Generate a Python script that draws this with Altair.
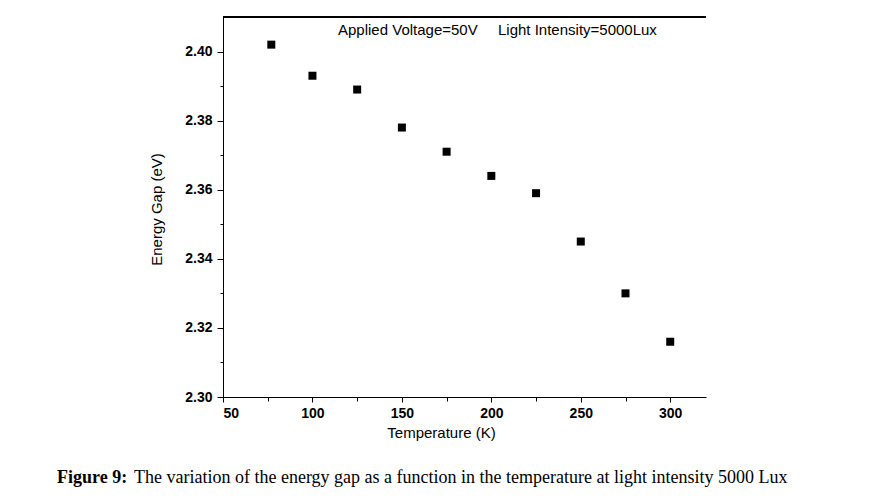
import altair as alt
import pandas as pd

temperature = [77, 100, 125, 150, 175, 200, 225, 250, 275, 300]
energy_gap = [2.402, 2.393, 2.389, 2.378, 2.371, 2.364, 2.359, 2.345, 2.330, 2.316]

x_ticks = [50, 75, 100, 125, 150, 175, 200, 225, 250, 275, 300]
y_ticks = [2.30, 2.31, 2.32, 2.33, 2.34, 2.35, 2.36, 2.37, 2.38, 2.39, 2.40]

annotation_left = "Applied Voltage=50V"
annotation_right = "Light Intensity=5000Lux"
caption_bold = "Figure 9:"
caption_text = "The variation of the energy gap as a function in the temperature at light intensity 5000 Lux"

df = pd.DataFrame({"T": temperature, "Eg": energy_gap})

SANS = "Liberation Sans"
SERIF = "Liberation Serif"

W, H = 483, 380

x_scale = alt.Scale(domain=[50, 320], nice=False, zero=False)
y_scale = alt.Scale(domain=[2.30, 2.41], nice=False, zero=False)

x_axis = alt.Axis(
    values=x_ticks,
    labelExpr="datum.value % 50 == 0 ? datum.label : ''",
    tickSize={"condition": {"test": "datum.value % 50 == 0", "value": 5}, "value": 4},
    grid=False,
    domainColor="black", tickColor="black", domainWidth=1, tickWidth=1,
    labelFont=SANS, labelFontSize=14, labelFontWeight="bold", labelColor="black",
    labelPadding=4,
    title="Temperature (K)", titleFont=SANS, titleFontSize=15, titleFontWeight="normal",
    titleColor="black", titleX=218, titleY=40, titleAlign="center", titleBaseline="alphabetic",
)

y_axis = alt.Axis(
    values=y_ticks,
    labelExpr="round(datum.value*100) % 2 == 0 ? format(datum.value, '.2f') : ''",
    tickSize={"condition": {"test": "round(datum.value*100) % 2 == 0", "value": 6}, "value": 3},
    grid=False,
    domainColor="black", tickColor="black", domainWidth=1, tickWidth=1,
    labelFont=SANS, labelFontSize=14, labelFontWeight="bold", labelColor="black",
    labelPadding=5,
    title="Energy Gap (eV)", titleFont=SANS, titleFontSize=15, titleFontWeight="normal",
    titleColor="black", titleX=-62, titleY=192, titleAngle=-90, titleAlign="center",
    titleBaseline="alphabetic",
)

points = alt.Chart(df).mark_square(size=64, color="black", opacity=1, filled=True).encode(
    x=alt.X("T:Q", scale=x_scale, axis=x_axis),
    y=alt.Y("Eg:Q", scale=y_scale, axis=y_axis),
)

top_line = alt.Chart(df).mark_rule(color="black", strokeWidth=1).encode(
    x=alt.value(0), x2=alt.value(W), y=alt.value(0)
)

ann1 = alt.Chart(pd.DataFrame({"t": [annotation_left]})).mark_text(
    font=SANS, fontSize=15, align="left", baseline="alphabetic", color="black"
).encode(text="t:N", x=alt.value(115), y=alt.value(18))

ann2 = alt.Chart(pd.DataFrame({"t": [annotation_right]})).mark_text(
    font=SANS, fontSize=15, align="left", baseline="alphabetic", color="black"
).encode(text="t:N", x=alt.value(275), y=alt.value(18))

cap1 = alt.Chart(pd.DataFrame({"t": [caption_bold]})).mark_text(
    font=SERIF, fontSize=18, fontWeight="bold", align="left", baseline="alphabetic", color="black"
).encode(text="t:N", x=alt.value(-166), y=alt.value(466))

cap2 = alt.Chart(pd.DataFrame({"t": [caption_text]})).mark_text(
    font=SERIF, fontSize=18, align="left", baseline="alphabetic", color="black"
).encode(text="t:N", x=alt.value(-89), y=alt.value(466))

chart = alt.layer(top_line, points, ann1, ann2, cap1, cap2).properties(
    width=W, height=H,
    autosize=alt.AutoSizeParams(type="none"),
    padding={"left": 223, "top": 17, "right": 169, "bottom": 104},
    background="white",
).configure_view(stroke=None)

chart.save("out.html", embed_options={"renderer": "svg", "actions": False})
